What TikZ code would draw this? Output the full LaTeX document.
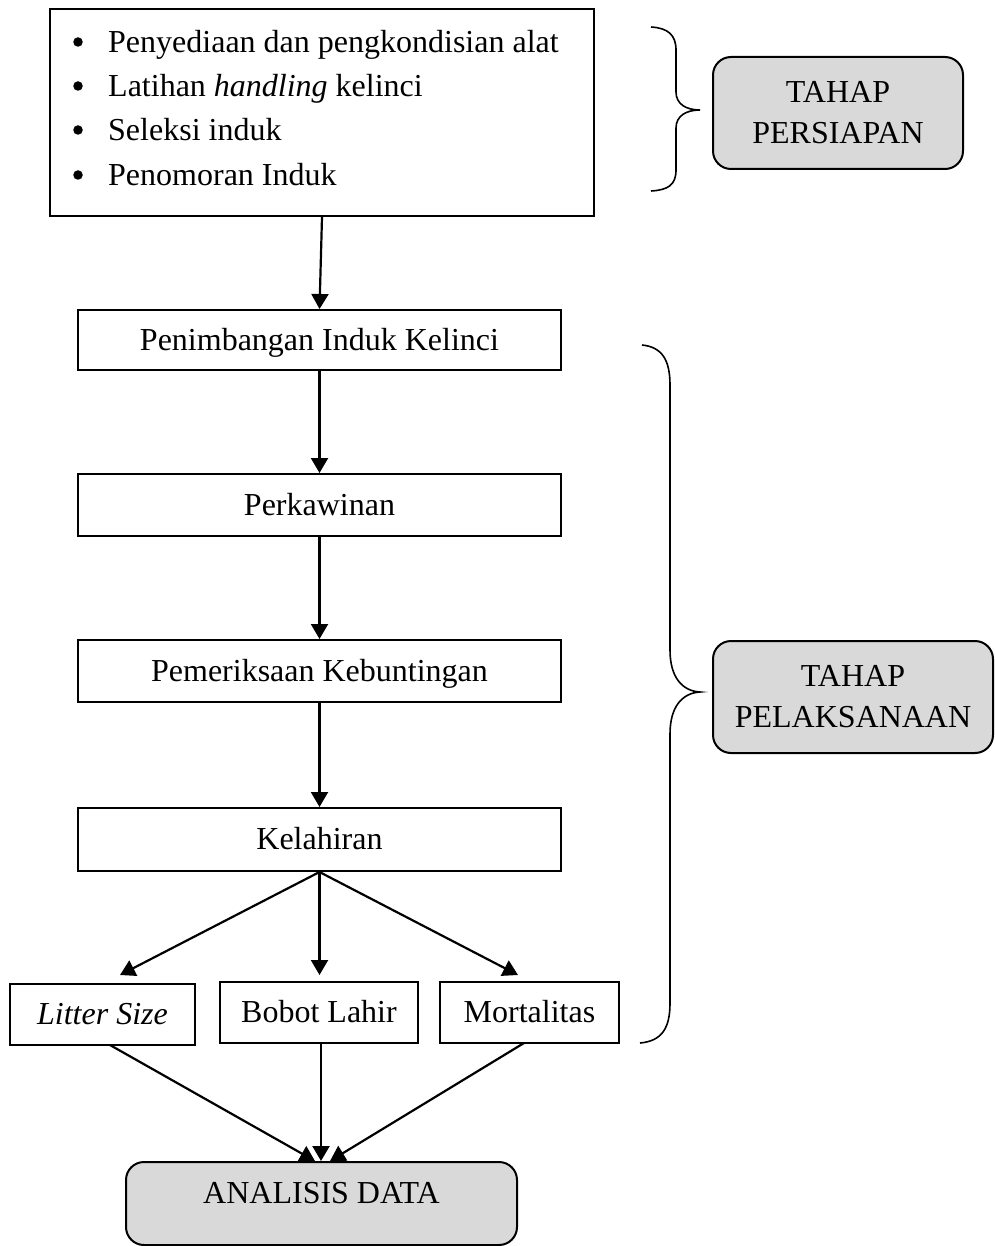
\documentclass[tikz,border=0pt]{standalone}
\usepackage{fontspec}
\setmainfont{Liberation Serif}
\usetikzlibrary{arrows.meta}
\definecolor{boxgray}{RGB}{217,217,217}
\begin{document}
\begin{tikzpicture}[x=1pt,y=-1pt,font=\fontsize{32}{41}\selectfont,
  box/.style={draw,line width=2pt,inner sep=0pt,text height=28pt,text depth=8pt},
  gbox/.style={draw,line width=2pt,fill=boxgray,rounded corners=18pt,inner sep=0pt,align=center},
  arr/.style={line width=2.2pt,-{Triangle[width=17pt,length=15pt]}},
  bracestroke/.style={line width=1.6pt},
  txt/.style={inner sep=0pt},
  dot/.style={circle,fill=black,inner sep=0pt,minimum size=9.5pt}]
\useasboundingbox (0,0) rectangle (994,1246);

% top box with list
\node[box,minimum width=544pt,minimum height=207pt] (prep) at (322,112.5) {};
\node[dot] (d1) at (78,42) {};
\node[dot] (d2) at (78,86) {};
\node[dot] (d3) at (78,130) {};
\node[dot] (d4) at (78,175) {};
\node[txt,anchor=base west] (l1) at (108,53) {Penyediaan dan pengkondisian alat};
\node[txt,anchor=base west] (l2) at (108,97) {Latihan \textit{handling} kelinci};
\node[txt,anchor=base west] (l3) at (108,141) {Seleksi induk};
\node[txt,anchor=base west] (l4) at (108,186) {Penomoran Induk};

% main flow
\node[box,minimum width=483pt,minimum height=60pt] (pen) at (319.5,340) {Penimbangan Induk Kelinci};
\node[box,minimum width=483pt,minimum height=62pt] (per) at (319.5,505) {Perkawinan};
\node[box,minimum width=483pt,minimum height=62pt] (pem) at (319.5,671) {Pemeriksaan Kebuntingan};
\node[box,minimum width=483pt,minimum height=63pt] (kel) at (319.5,839.5) {Kelahiran};

\node[box,minimum width=185pt,minimum height=61pt] (ls) at (102.5,1014.5) {\textit{Litter Size}};
\node[box,minimum width=198pt,minimum height=61pt] (bl) at (319,1012.5) {Bobot Lahir};
\node[box,minimum width=179pt,minimum height=61pt] (mo) at (529.5,1012.5) {Mortalitas};

\node[gbox,minimum width=391pt,minimum height=83pt,text height=22pt,text depth=22pt] (an) at (321.5,1203.5) {ANALISIS DATA};

% stage boxes
\node[gbox,minimum width=250pt,minimum height=112pt] (tp) at (838,113) {TAHAP\\PERSIAPAN};
\node[gbox,minimum width=280pt,minimum height=112pt] (tl) at (853,697) {TAHAP\\PELAKSANAAN};

% connectors
\draw[arr] (prep.south) -- (pen.north);
\draw[arr] (pen.south) -- (per.north);
\draw[arr] (per.south) -- (pem.north);
\draw[arr] (pem.south) -- (kel.north);

\coordinate (tL) at (120,975);
\coordinate (tB) at (319.5,975);
\coordinate (tM) at (518,975);
\draw[arr] (kel.south) -- (tL);
\draw[arr] (kel.south) -- (tB);
\draw[arr] (kel.south) -- (tM);

\coordinate (sL) at (110,1045);
\coordinate (sB) at (321,1043);
\coordinate (sM) at (524,1043);
\coordinate (aL) at (315,1161);
\coordinate (aB) at (321,1161);
\coordinate (aM) at (330,1161);
\draw[arr] (sL) -- (aL);
\draw[arr] (sB) -- (aB);
\draw[arr] (sM) -- (aM);

% braces
\draw[bracestroke] (651,27) .. controls (668,28) and (676,35) .. (676,50)
  -- (676,92) .. controls (676,104) and (686,110) .. (700,110)
  .. controls (686,110) and (676,116) .. (676,128)
  -- (676,170) .. controls (676,185) and (668,190) .. (651,191);

\draw[bracestroke] (642,345) .. controls (662,347) and (670,360) .. (670,385)
  -- (670,650) .. controls (670,677) and (682,691) .. (700,692)
  .. controls (682,693) and (670,707) .. (670,734)
  -- (670,1003) .. controls (670,1028) and (662,1041) .. (640,1043);
\end{tikzpicture}
\end{document}
